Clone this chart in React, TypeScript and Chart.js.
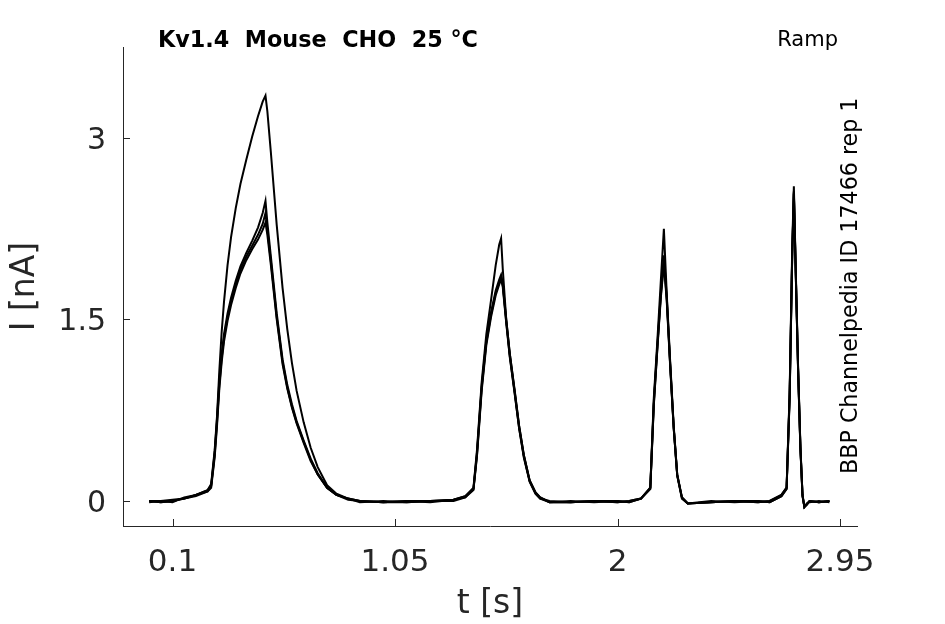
import { useEffect, useRef } from "react";
import { Chart, registerables } from "chart.js";

Chart.register(...registerables);

// time base shared by all sweeps [s]
const timeS = [
  0.0, 0.05, 0.1, 0.15, 0.2, 0.25, 0.265, 0.28, 0.29, 0.3,
  0.31, 0.32, 0.335, 0.35, 0.37, 0.39, 0.415, 0.44, 0.465, 0.485,
  0.497, 0.505, 0.52, 0.545, 0.57, 0.59, 0.61, 0.63, 0.66, 0.69,
  0.72, 0.76, 0.8, 0.85,
  0.9, 1.0, 1.1, 1.2, 1.3, 1.35, 1.385, 1.4, 1.42, 1.44,
  1.46, 1.48, 1.495, 1.503, 1.51, 1.525, 1.54, 1.56, 1.58, 1.6,
  1.625, 1.65, 1.67, 1.71, 1.8, 1.9, 2.0, 2.05, 2.1, 2.14,
  2.155, 2.17, 2.185, 2.198, 2.21, 2.225, 2.24, 2.255, 2.275, 2.3,
  2.4, 2.5, 2.6, 2.65, 2.7, 2.722, 2.735, 2.746, 2.753, 2.761,
  2.771, 2.781, 2.79, 2.798, 2.809, 2.82, 2.86, 2.905,
];

// current of each sweep [nA]
const sweep1 = [
  0.0, -0.01, 0.0, 0.02, 0.05, 0.09, 0.14, 0.42, 0.7, 1.08,
  1.4, 1.65, 1.95, 2.18, 2.42, 2.62, 2.82, 3.01, 3.18, 3.3,
  3.35, 3.22, 2.88, 2.28, 1.76, 1.42, 1.14, 0.91, 0.65, 0.44,
  0.28, 0.13, 0.06, 0.02,
  0.0, -0.01, -0.01, 0.0, 0.01, 0.04, 0.11, 0.42, 0.98, 1.38,
  1.66, 1.95, 2.12, 2.17, 1.92, 1.5, 1.22, 0.92, 0.62, 0.38,
  0.17, 0.07, 0.03, -0.01, -0.01, 0.0, -0.01, 0.0, 0.02, 0.11,
  0.85, 1.32, 1.82, 2.25, 1.72, 1.15, 0.62, 0.22, 0.03, -0.02,
  -0.01, 0.0, -0.01, 0.0, 0.05, 0.11, 0.9, 2.1, 2.6, 1.92,
  1.12, 0.45, 0.05, -0.05, -0.03, 0.0, -0.01, 0.0,
];
const sweep2 = [
  0.0, 0.0, -0.01, 0.03, 0.05, 0.09, 0.13, 0.4, 0.68, 1.0,
  1.22, 1.38, 1.55, 1.68, 1.82, 1.94, 2.05, 2.15, 2.26, 2.38,
  2.48, 2.3, 2.02, 1.55, 1.17, 0.96, 0.8, 0.66, 0.5, 0.35,
  0.23, 0.11, 0.05, 0.02,
  0.0, -0.01, 0.0, -0.01, 0.01, 0.04, 0.1, 0.4, 0.95, 1.33,
  1.56, 1.74, 1.83, 1.87, 1.8, 1.5, 1.22, 0.93, 0.62, 0.38,
  0.17, 0.07, 0.03, -0.01, -0.01, 0.0, -0.01, 0.0, 0.02, 0.11,
  0.82, 1.28, 1.72, 2.03, 1.7, 1.13, 0.61, 0.22, 0.03, -0.02,
  -0.01, 0.0, -0.01, 0.0, 0.05, 0.11, 0.88, 2.05, 2.56, 1.9,
  1.1, 0.44, 0.05, -0.05, -0.03, 0.0, -0.01, 0.0,
];
const sweep3 = [
  0.0, -0.01, 0.0, 0.02, 0.04, 0.08, 0.12, 0.38, 0.65, 0.96,
  1.18, 1.35, 1.52, 1.65, 1.79, 1.91, 2.02, 2.11, 2.2, 2.29,
  2.38, 2.24, 1.98, 1.52, 1.15, 0.94, 0.78, 0.65, 0.49, 0.34,
  0.22, 0.11, 0.05, 0.02,
  -0.01, 0.0, -0.01, 0.0, 0.0, 0.03, 0.1, 0.38, 0.93, 1.31,
  1.54, 1.72, 1.81, 1.85, 1.79, 1.48, 1.2, 0.91, 0.6, 0.37,
  0.16, 0.06, 0.02, -0.01, 0.0, -0.01, 0.0, -0.01, 0.02, 0.1,
  0.8, 1.26, 1.7, 1.98, 1.68, 1.12, 0.6, 0.21, 0.03, -0.02,
  0.0, -0.01, 0.0, -0.01, 0.04, 0.1, 0.86, 2.03, 2.55, 1.89,
  1.09, 0.43, 0.04, -0.05, -0.02, -0.01, 0.0, -0.01,
];
const sweep4 = [
  -0.01, 0.0, 0.01, 0.02, 0.05, 0.08, 0.11, 0.36, 0.62, 0.93,
  1.15, 1.32, 1.49, 1.62, 1.76, 1.88, 1.99, 2.08, 2.16, 2.24,
  2.3, 2.2, 1.95, 1.5, 1.13, 0.93, 0.77, 0.64, 0.48, 0.33,
  0.22, 0.11, 0.05, 0.01,
  0.0, -0.01, 0.0, 0.0, 0.01, 0.03, 0.09, 0.37, 0.91, 1.29,
  1.52, 1.7, 1.79, 1.83, 1.77, 1.47, 1.19, 0.9, 0.6, 0.36,
  0.16, 0.06, 0.02, 0.0, -0.01, 0.0, 0.0, -0.01, 0.02, 0.1,
  0.79, 1.25, 1.68, 1.96, 1.66, 1.11, 0.6, 0.21, 0.02, -0.02,
  -0.01, 0.0, 0.0, -0.01, 0.04, 0.1, 0.85, 2.02, 2.54, 1.88,
  1.08, 0.43, 0.04, -0.05, -0.02, 0.0, -0.01, 0.0,
];

const xTicks = [0.1, 1.05, 2, 2.95];
const yTicks = [0, 1.5, 3];

const titleText = "Kv1.4  Mouse  CHO  25 °C";
const protocolText = "Ramp";
const sourceText = "BBP Channelpedia ID 17466 rep 1";

const AXIS = "#262626";
const FONT = '"DejaVu Sans", sans-serif';

// inward tick marks + the annotation texts
const decorations = {
  id: "decorations",
  afterDraw(chart: Chart) {
    const { ctx, chartArea } = chart;
    const xs = chart.scales.x;
    const ys = chart.scales.y;
    ctx.save();
    ctx.strokeStyle = AXIS;
    ctx.lineWidth = 1;
    ctx.beginPath();
    xTicks.forEach((v) => {
      const px = Math.round(xs.getPixelForValue(v)) + 0.5;
      ctx.moveTo(px, chartArea.bottom);
      ctx.lineTo(px, chartArea.bottom - 7);
    });
    yTicks.forEach((v) => {
      const py = Math.round(ys.getPixelForValue(v)) + 0.5;
      ctx.moveTo(chartArea.left, py);
      ctx.lineTo(chartArea.left + 7, py);
    });
    ctx.stroke();

    ctx.fillStyle = "#000";
    ctx.textBaseline = "alphabetic";
    ctx.font = `bold 22.3px ${FONT}`;
    ctx.textAlign = "left";
    ctx.fillText(titleText, chartArea.left + 35, chartArea.top);

    ctx.font = `21px ${FONT}`;
    ctx.textAlign = "right";
    ctx.fillText(protocolText, chartArea.right - 19, chartArea.top - 1);

    ctx.font = `22.2px ${FONT}`;
    ctx.translate(chartArea.right, chartArea.bottom - 52);
    ctx.rotate(-Math.PI / 2);
    ctx.textAlign = "left";
    ctx.fillText(sourceText, 0, 0);
    ctx.restore();
  },
};

export default function App() {
  const canvasRef = useRef<HTMLCanvasElement>(null);

  useEffect(() => {
    if (!canvasRef.current) return;
    const sweeps = [sweep1, sweep2, sweep3, sweep4];

    const chart = new Chart(canvasRef.current, {
      type: "line",
      data: {
        datasets: sweeps.map((s, k) => ({
          label: `sweep ${k + 1}`,
          data: timeS.map((t, i) => ({ x: t, y: s[i] })),
          borderColor: "#000",
          borderWidth: 2,
          pointRadius: 0,
          tension: 0,
          fill: false,
        })),
      },
      options: {
        responsive: false,
        animation: false,
        layout: { padding: { top: 47, right: 88, left: 0, bottom: 0 } },
        plugins: { legend: { display: false }, tooltip: { enabled: false } },
        scales: {
          x: {
            type: "linear",
            min: -0.1114,
            max: 3.0226,
            afterBuildTicks: (scale: any) => {
              scale.ticks = xTicks.map((value) => ({ value }));
            },
            afterFit: (scale: any) => {
              scale.height = 98;
            },
            grid: { display: false, drawTicks: false },
            border: { display: true, color: AXIS, width: 1 },
            ticks: {
              color: AXIS,
              padding: 18,
              maxRotation: 0,
              autoSkip: false,
              font: { family: FONT, size: 31 },
              callback: (v: any) => String(v),
            },
            title: {
              display: true,
              text: "t [s]",
              color: AXIS,
              font: { family: FONT, size: 33 },
              padding: { top: 0, bottom: 0 },
            },
          },
          y: {
            type: "linear",
            min: -0.2066,
            max: 3.752,
            afterBuildTicks: (scale: any) => {
              scale.ticks = yTicks.map((value) => ({ value }));
            },
            afterFit: (scale: any) => {
              scale.width = 123;
            },
            grid: { display: false, drawTicks: false },
            border: { display: true, color: AXIS, width: 1 },
            ticks: {
              color: AXIS,
              padding: 17,
              labelOffset: 3,
              autoSkip: false,
              font: { family: FONT, size: 30 },
              callback: (v: any) => String(v),
            },
            title: {
              display: true,
              text: "I [nA]",
              color: AXIS,
              font: { family: FONT, size: 33 },
              padding: { top: 6, bottom: 0 },
            },
          },
        },
      },
      plugins: [decorations],
    });

    return () => chart.destroy();
  }, []);

  return (
    <div style={{ position: "absolute", left: 0, top: 0, width: 945, height: 624, background: "#fff" }}>
      <canvas ref={canvasRef} width={945} height={624} style={{ display: "block" }} />
    </div>
  );
}
